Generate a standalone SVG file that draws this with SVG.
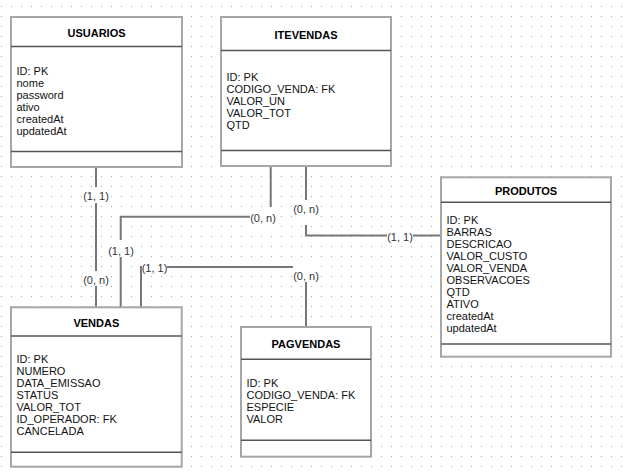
<svg xmlns="http://www.w3.org/2000/svg" width="625" height="474" viewBox="0 0 625 474">
<defs>
<pattern id="grid" x="0" y="0" width="10" height="10" patternUnits="userSpaceOnUse">
<rect x="1" y="6" width="1" height="1" fill="#a8a8a8"/>
</pattern>
<style>
.box{fill:#fff;stroke:#a6a6a6;stroke-width:2}
.div{stroke:#555;stroke-width:1.5;fill:none}
.title{font-family:"Liberation Sans",Arial,sans-serif;font-size:11px;font-weight:bold;fill:#000;text-anchor:middle}
.attr{font-family:"Liberation Sans",Arial,sans-serif;font-size:11px;fill:#111}
.conn{fill:none;stroke:#777;stroke-width:2}
.lbg{fill:#fff}
.lbl{font-family:"Liberation Sans",Arial,sans-serif;font-size:11px;fill:#333;text-anchor:middle}
</style>
</defs>
<rect width="625" height="474" fill="#fff"/>
<rect width="625" height="474" fill="url(#grid)"/>

<g id="connectors">
<path class="conn" d="M96,167 V307.3"/>
<path class="conn" d="M270.7,166 V216.7 H120.7 V307.3"/>
<path class="conn" d="M306,166 V235.5 H441"/>
<path class="conn" d="M141,307.3 V267 H306 V327"/>
<rect class="lbg" x="83" y="187" width="26" height="16"/>
<text class="lbl" x="96" y="199.5">(1, 1)</text>
<rect class="lbg" x="83" y="271" width="26" height="15"/>
<text class="lbl" x="96" y="284">(0, n)</text>
<rect class="lbg" x="250" y="207" width="27" height="20"/>
<text class="lbl" x="263" y="222">(0, n)</text>
<rect class="lbg" x="108" y="240" width="26" height="17"/>
<text class="lbl" x="121" y="254.5">(1, 1)</text>
<rect class="lbg" x="293" y="200" width="26" height="25"/>
<text class="lbl" x="306" y="212.5">(0, n)</text>
<rect class="lbg" x="387" y="229" width="26" height="15"/>
<text class="lbl" x="400" y="241">(1, 1)</text>
<rect class="lbg" x="142" y="260" width="25" height="15"/>
<text class="lbl" x="154.5" y="271.5">(1, 1)</text>
<rect class="lbg" x="293" y="262" width="26" height="20"/>
<text class="lbl" x="306" y="280">(0, n)</text>
</g>

<g id="usuarios">
<rect class="box" x="11" y="17" width="171" height="150"/>
<line class="div" x1="11" y1="46.5" x2="182" y2="46.5"/>
<line class="div" x1="11" y1="151.5" x2="182" y2="151.5"/>
<text class="title" x="96.5" y="37">USUARIOS</text>
<text class="attr" x="16.5" y="75">ID: PK</text>
<text class="attr" x="16.5" y="87">nome</text>
<text class="attr" x="16.5" y="99">password</text>
<text class="attr" x="16.5" y="111">ativo</text>
<text class="attr" x="16.5" y="123">createdAt</text>
<text class="attr" x="16.5" y="135">updatedAt</text>
</g>

<g id="itevendas">
<rect class="box" x="221" y="17" width="170" height="149"/>
<line class="div" x1="221" y1="50.5" x2="391" y2="50.5"/>
<line class="div" x1="221" y1="150.5" x2="391" y2="150.5"/>
<text class="title" x="306" y="38.5">ITEVENDAS</text>
<text class="attr" x="226.5" y="81">ID: PK</text>
<text class="attr" x="226.5" y="93">CODIGO_VENDA: FK</text>
<text class="attr" x="226.5" y="105">VALOR_UN</text>
<text class="attr" x="226.5" y="117">VALOR_TOT</text>
<text class="attr" x="226.5" y="129">QTD</text>
</g>

<g id="produtos">
<rect class="box" x="441" y="177.3" width="170" height="179.4"/>
<line class="div" x1="441" y1="202.3" x2="611" y2="202.3"/>
<line class="div" x1="441" y1="344" x2="611" y2="344"/>
<text class="title" x="526" y="195">PRODUTOS</text>
<text class="attr" x="446.5" y="224">ID: PK</text>
<text class="attr" x="446.5" y="236">BARRAS</text>
<text class="attr" x="446.5" y="248">DESCRICAO</text>
<text class="attr" x="446.5" y="260">VALOR_CUSTO</text>
<text class="attr" x="446.5" y="272">VALOR_VENDA</text>
<text class="attr" x="446.5" y="284">OBSERVACOES</text>
<text class="attr" x="446.5" y="296">QTD</text>
<text class="attr" x="446.5" y="308">ATIVO</text>
<text class="attr" x="446.5" y="320">createdAt</text>
<text class="attr" x="446.5" y="332">updatedAt</text>
</g>

<g id="vendas">
<rect class="box" x="11" y="307.3" width="170.7" height="159.4"/>
<line class="div" x1="11" y1="336" x2="181.7" y2="336"/>
<line class="div" x1="11" y1="452.3" x2="181.7" y2="452.3"/>
<text class="title" x="96.3" y="327">VENDAS</text>
<text class="attr" x="16.5" y="363">ID: PK</text>
<text class="attr" x="16.5" y="375">NUMERO</text>
<text class="attr" x="16.5" y="387">DATA_EMISSAO</text>
<text class="attr" x="16.5" y="399">STATUS</text>
<text class="attr" x="16.5" y="411">VALOR_TOT</text>
<text class="attr" x="16.5" y="423">ID_OPERADOR: FK</text>
<text class="attr" x="16.5" y="435">CANCELADA</text>
</g>

<g id="pagvendas">
<rect class="box" x="241" y="327" width="130" height="129.7"/>
<line class="div" x1="241" y1="359.3" x2="371" y2="359.3"/>
<line class="div" x1="241" y1="440.3" x2="371" y2="440.3"/>
<text class="title" x="306" y="348.3">PAGVENDAS</text>
<text class="attr" x="246.5" y="386.7">ID: PK</text>
<text class="attr" x="246.5" y="398.7">CODIGO_VENDA: FK</text>
<text class="attr" x="246.5" y="410.7">ESPECIE</text>
<text class="attr" x="246.5" y="422.7">VALOR</text>
</g>
</svg>
